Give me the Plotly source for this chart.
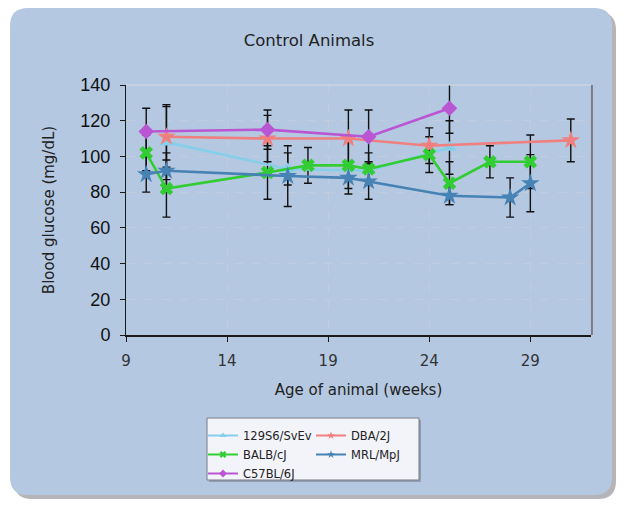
import plotly.graph_objects as go

# ---------------- data ----------------
names = ["129S6/SvEv", "DBA/2J", "BALB/cJ", "MRL/MpJ", "C57BL/6J"]

weeks_129 = [11, 17, 21, 25]
glu_129 = [108, 93, 92, 105]
err_129 = [21, 9, 5, 15]

weeks_dba = [11, 16, 20, 24, 31]
glu_dba = [111, 110, 110, 106, 109]
err_dba = [17, 13, 16, 10, 12]

weeks_balb = [10, 11, 16, 18, 20, 21, 24, 25, 27, 29]
glu_balb = [102, 82, 91, 95, 95, 93, 101, 85, 97, 97]
err_balb = [10, 16, 15, 10, 13, 9, 10, 12, 9, 15]

weeks_mrl = [10, 11, 17, 20, 21, 25, 28, 29]
glu_mrl = [90, 92, 89, 88, 86, 78, 77, 85]
err_mrl = [10, 10, 17, 9, 10, 5, 11, 16]

weeks_c57 = [10, 16, 21, 25]
glu_c57 = [114, 115, 111, 127]
err_c57 = [13, 11, 15, 14]

x_ticks = [9, 14, 19, 24, 29]
y_ticks = [0, 20, 40, 60, 80, 100, 120, 140]

# ---------------- styles ----------------
series = [
    dict(name=names[0], x=weeks_129, y=glu_129, e=err_129, color="#87CEEB", symbol="triangle-up", size=13, legend="legend"),
    dict(name=names[1], x=weeks_dba, y=glu_dba, e=err_dba, color="#F08080", symbol="star", size=14, legend="legend2"),
    dict(name=names[2], x=weeks_balb, y=glu_balb, e=err_balb, color="#32CD32", symbol="x", size=12, legend="legend"),
    dict(name=names[3], x=weeks_mrl, y=glu_mrl, e=err_mrl, color="#4682B4", symbol="star", size=14, legend="legend2"),
    dict(name=names[4], x=weeks_c57, y=glu_c57, e=err_c57, color="#BA55D3", symbol="diamond", size=12, legend="legend"),
]

fig = go.Figure()

# error bars first (under all lines/markers)
for s in series:
    fig.add_trace(go.Scatter(
        x=s["x"], y=s["y"], mode="markers", cliponaxis=False,
        marker=dict(size=1, color="rgba(0,0,0,0)"),
        error_y=dict(type="data", array=s["e"], visible=True, color="#111111", thickness=1.4, width=4),
        showlegend=False, hoverinfo="skip"))

# lines + markers
for s in series:
    fig.add_trace(go.Scatter(
        x=s["x"], y=s["y"], mode="lines+markers", name=s["name"],
        line=dict(color=s["color"], width=2.6),
        marker=dict(symbol=s["symbol"], size=s["size"], color=s["color"]),
        showlegend=False))

# legend entries (small markers)
legend_order = [0, 2, 4, 1, 3]
for i in legend_order:
    s = series[i]
    fig.add_trace(go.Scatter(
        x=[None], y=[None], mode="lines+markers", name=s["name"],
        line=dict(color=s["color"], width=2),
        marker=dict(symbol=s["symbol"], size=6, color=s["color"]),
        legend=s["legend"], showlegend=True))

# ---------------- layout geometry (pixels) ----------------
W, H = 626, 506
L, R, T, B = 126, 591, 85, 335
PW, PH = R - L, B - T


def px(x):
    return (x - L) / PW


def py(y):
    return (B - y) / PH


def rounded(x0, y0, x1, y1, r):
    rx, ry = r / PW, r / PH
    a, b, c, d = px(x0), py(y0), px(x1), py(y1)  # left, top, right, bottom
    return (f"M {a+rx},{b} L {c-rx},{b} Q {c},{b} {c},{b-ry} "
            f"L {c},{d+ry} Q {c},{d} {c-rx},{d} L {a+rx},{d} "
            f"Q {a},{d} {a},{d+ry} L {a},{b-ry} Q {a},{b} {a+rx},{b} Z")


shapes = [
    dict(type="path", xref="paper", yref="paper", layer="below",
         path=rounded(14, 12, 616, 499, 18), fillcolor="rgba(90,90,100,0.45)", line=dict(width=0)),
    dict(type="path", xref="paper", yref="paper", layer="below",
         path=rounded(10, 8, 612, 495, 18), fillcolor="#B4C8E1", line=dict(width=0)),
    # legend box shadow + box
    dict(type="rect", xref="paper", yref="paper", layer="below",
         x0=px(209), x1=px(421), y0=py(420), y1=py(482), fillcolor="rgba(80,80,90,0.35)", line=dict(width=0)),
    dict(type="rect", xref="paper", yref="paper", layer="below",
         x0=px(207), x1=px(419), y0=py(418), y1=py(480), fillcolor="#F3F3FA", line=dict(color="#7A7A88", width=1)),
    # right edge of plot area
    dict(type="line", xref="paper", yref="paper", x0=1.002, x1=1.002, y0=0, y1=1,
         line=dict(color="#7C7C86", width=2)),
    dict(type="line", xref="paper", yref="paper", x0=0, x1=1, y0=1, y1=1,
         line=dict(color="#D6D9E4", width=1)),
]

fig.update_layout(
    width=W, height=H,
    margin=dict(l=L, r=W - R, t=T, b=H - B, pad=0),
    paper_bgcolor="white",
    plot_bgcolor="#EFEFFB",
    shapes=shapes,
    title=dict(text="Control Animals", x=px(309), xref="paper", xanchor="center",
               y=1 - 40 / H, yanchor="middle",
               font=dict(family="DejaVu Sans", size=16.5, color="#222222")),
    xaxis=dict(
        range=[9, 32], tickmode="array", tickvals=x_ticks, ticktext=[str(v) for v in x_ticks],
        showgrid=True, gridcolor="#C3CCDC", griddash="dash", gridwidth=1,
        zeroline=False, showline=True, linecolor="#1A1A1A", linewidth=2,
        ticks="outside", ticklen=5, tickcolor="#1A1A1A", tickwidth=1,
        tickfont=dict(family="DejaVu Sans", size=15, color="#333333"),
        ticklabelstandoff=6,
        title=dict(text="Age of animal (weeks)", standoff=15,
                   font=dict(family="DejaVu Sans", size=15, color="#222222")),
    ),
    yaxis=dict(
        range=[0, 140], tickmode="array", tickvals=y_ticks, ticktext=[str(v) for v in y_ticks],
        showgrid=True, gridcolor="#C3CCDC", griddash="dash", gridwidth=1,
        zeroline=False, showline=True, linecolor="#1A1A1A", linewidth=1,
        ticks="outside", ticklen=5, tickcolor="#1A1A1A", tickwidth=1,
        tickfont=dict(family="Liberation Sans", size=18, color="#111111"),
        ticklabelstandoff=6,
        title=dict(text="Blood glucose (mg/dL)", standoff=22,
                   font=dict(family="DejaVu Sans", size=15, color="#222222")),
    ),
    legend=dict(x=px(203), y=py(421), xanchor="left", yanchor="top", orientation="v",
                bgcolor="rgba(0,0,0,0)", borderwidth=0,
                font=dict(family="DejaVu Sans", size=11.5, color="#222222"),
                itemwidth=30, tracegroupgap=0),
    legend2=dict(x=px(311), y=py(421), xanchor="left", yanchor="top", orientation="v",
                 bgcolor="rgba(0,0,0,0)", borderwidth=0,
                 font=dict(family="DejaVu Sans", size=11.5, color="#222222"),
                 itemwidth=30, tracegroupgap=0),
)

fig.write_html("out.html")
